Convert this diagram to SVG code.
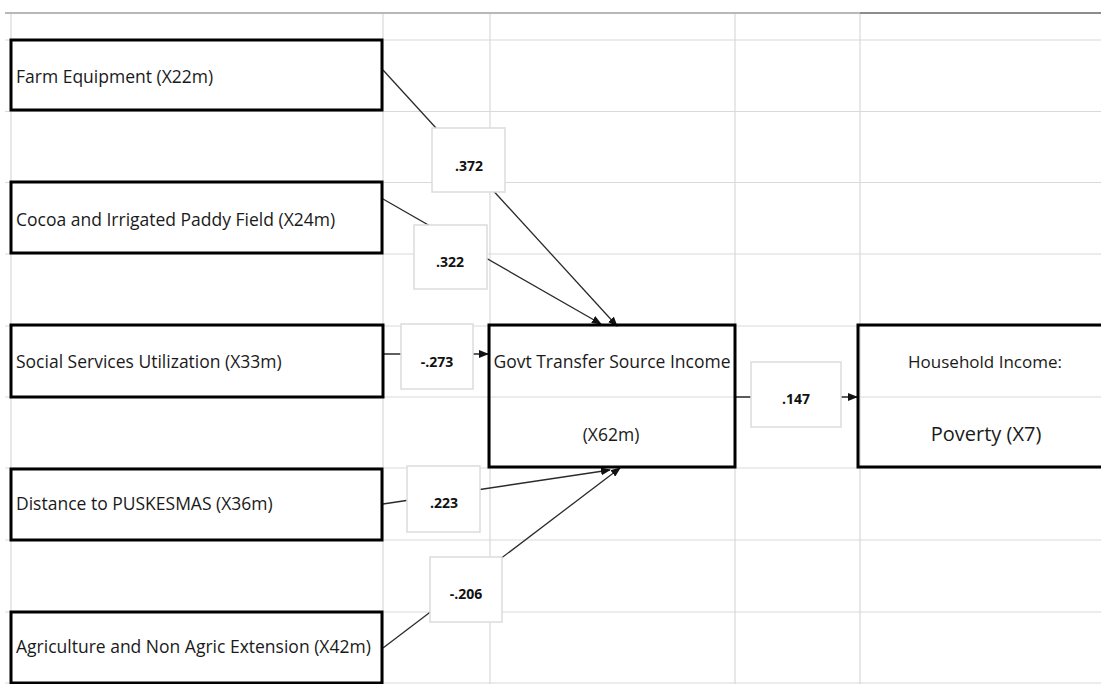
<svg xmlns="http://www.w3.org/2000/svg" width="1101" height="684" viewBox="0 0 1101 684">
<style>
.grid{stroke:#d9d9d9;stroke-width:1.2;fill:none}
.node{fill:none;stroke:#000;stroke-width:3}
.lbl{fill:#fff;stroke:#dcdcdc;stroke-width:1.5}
.t{font-family:"Open Sans","Noto Sans",sans-serif;font-size:17.5px;fill:#1a1a1a}
.c{text-anchor:middle}
.w{font-family:"Open Sans","Noto Sans",sans-serif;font-size:14px;font-weight:bold;fill:#111;text-anchor:middle}
.edge{stroke:#2a2a2a;stroke-width:1.3;fill:none}
</style>
<defs>
<marker id="ah" markerUnits="userSpaceOnUse" markerWidth="10" markerHeight="8" refX="9" refY="4" orient="auto">
<path d="M0,0 L10,4 L0,8 Z" fill="#111"/>
</marker>
</defs>
<rect width="1101" height="684" fill="#fff"/>
<g id="grid">
<line class="grid" x1="5" y1="40" x2="1101" y2="40"/>
<line class="grid" x1="5" y1="111.5" x2="1101" y2="111.5"/>
<line class="grid" x1="5" y1="182.5" x2="1101" y2="182.5"/>
<line class="grid" x1="5" y1="254" x2="1101" y2="254"/>
<line class="grid" x1="5" y1="326" x2="1101" y2="326"/>
<line class="grid" x1="5" y1="397" x2="1101" y2="397"/>
<line class="grid" x1="5" y1="468" x2="1101" y2="468"/>
<line class="grid" x1="5" y1="540" x2="1101" y2="540"/>
<line class="grid" x1="5" y1="612" x2="1101" y2="612"/>
<line class="grid" x1="5" y1="683" x2="1101" y2="683"/>
<line class="grid" x1="11" y1="13" x2="11" y2="684"/>
<line class="grid" x1="383" y1="13" x2="383" y2="684"/>
<line class="grid" x1="490" y1="13" x2="490" y2="684"/>
<line class="grid" x1="735" y1="13" x2="735" y2="684"/>
<line class="grid" x1="860" y1="13" x2="860" y2="684"/>
<line x1="5" y1="13" x2="860" y2="13" stroke="#b8b8b8" stroke-width="2"/>
<line x1="860" y1="13" x2="1101" y2="13" stroke="#8c8c8c" stroke-width="2"/>
</g>
<g id="connectors">
<line class="edge" x1="383" y1="70" x2="617" y2="326" marker-end="url(#ah)"/>
<line class="edge" x1="383" y1="199" x2="601" y2="324" marker-end="url(#ah)"/>
<line class="edge" x1="384" y1="354" x2="488" y2="354" marker-end="url(#ah)"/>
<line class="edge" x1="383" y1="504" x2="610" y2="470" marker-end="url(#ah)"/>
<line class="edge" x1="383" y1="648" x2="620" y2="468" marker-end="url(#ah)"/>
<line class="edge" x1="736" y1="397" x2="857" y2="397" marker-end="url(#ah)"/>
</g>
<g id="w372"><rect class="lbl" x="432" y="128" width="73" height="64"/><text class="w" x="469" y="171">.372</text></g>
<g id="w322"><rect class="lbl" x="414" y="225" width="73" height="64"/><text class="w" x="450" y="267">.322</text></g>
<g id="w273"><rect class="lbl" x="401" y="324" width="72" height="65"/><text class="w" x="437" y="367">-.273</text></g>
<g id="w147"><rect class="lbl" x="751" y="362" width="90" height="65"/><text class="w" x="796" y="404">.147</text></g>
<g id="w223"><rect class="lbl" x="407" y="466" width="73" height="66"/><text class="w" x="444" y="508">.223</text></g>
<g id="w206"><rect class="lbl" x="430" y="557" width="72" height="65"/><text class="w" x="466" y="599">-.206</text></g>
<g id="farm"><rect class="node" x="11" y="40" width="371" height="70"/><text class="t" x="16" y="83">Farm Equipment (X22m)</text></g>
<g id="cocoa"><rect class="node" x="11" y="182" width="371" height="71"/><text class="t" x="16" y="226">Cocoa and Irrigated Paddy Field (X24m)</text></g>
<g id="social"><rect class="node" x="11" y="325" width="372" height="72"/><text class="t" x="16" y="368">Social Services Utilization (X33m)</text></g>
<g id="distance"><rect class="node" x="11" y="469" width="371" height="71"/><text class="t" x="16" y="510">Distance to PUSKESMAS (X36m)</text></g>
<g id="agri"><rect class="node" x="11" y="612" width="371" height="71"/><text class="t" x="16" y="653">Agriculture and Non Agric Extension (X42m)</text></g>
<g id="govt"><rect class="node" x="489" y="325" width="246" height="142"/><text class="t c" x="612" y="368">Govt Transfer Source Income</text><text class="t c" x="611" y="441">(X62m)</text></g>
<g id="household"><rect class="node" x="858" y="325" width="250" height="142"/><text class="t c" x="985" y="368" style="font-size:17px">Household Income:</text><text class="t c" x="986" y="441" style="font-size:20px">Poverty (X7)</text></g>
</svg>
